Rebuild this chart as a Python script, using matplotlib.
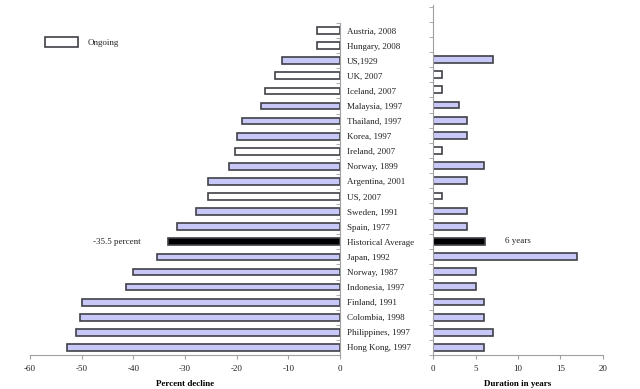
import matplotlib.pyplot as plt
import numpy as np
from matplotlib.patches import Rectangle

plt.rcParams['font.family'] = ['Liberation Serif', 'DejaVu Serif']
plt.rcParams['axes.unicode_minus'] = False

# top to bottom
episodes = ['Austria, 2008', 'Hungary, 2008', 'US,1929', 'UK, 2007', 'Iceland, 2007',
            'Malaysia, 1997', 'Thailand, 1997', 'Korea, 1997', 'Ireland, 2007',
            'Norway, 1899', 'Argentina, 2001', 'US, 2007', 'Sweden, 1991', 'Spain, 1977',
            'Historical Average', 'Japan, 1992', 'Norway, 1987', 'Indonesia, 1997',
            'Finland, 1991', 'Colombia, 1998', 'Philippines, 1997', 'Hong Kong, 1997']
decline = [-4.4, -4.4, -11.3, -12.6, -14.5, -15.2, -19.0, -19.9, -20.4, -21.5, -25.5,
           -25.5, -27.9, -31.6, -33.3, -35.5, -40.1, -41.5, -49.9, -50.4, -51.1, -52.9]
duration = [0, 0, 7, 1, 1, 3, 4, 4, 1, 6, 4, 1, 4, 4, 6.1, 17, 5, 5, 6, 6, 7, 6]
status = ['ongoing', 'ongoing', 'past', 'ongoing', 'ongoing', 'past', 'past', 'past',
          'ongoing', 'past', 'past', 'ongoing', 'past', 'past', 'average', 'past', 'past',
          'past', 'past', 'past', 'past', 'past']

fills = {'ongoing': 'white', 'past': '#c8c8f8', 'average': 'black'}
colors = [fills[s] for s in status]
n = len(episodes)
y = np.arange(n)

fig = plt.figure(figsize=(6.4, 3.89), dpi=100)
ax1 = fig.add_axes([30 / 640, 1 - 355 / 389, 310 / 640, 332 / 389])
ax2 = fig.add_axes([433.3 / 640, 1 - 355 / 389, 169.4 / 640, 350 / 389])

gray = '#a0a0a0'
edge = '#404048'
txt = '#222222'
fs = 6.5

ax1.barh(y, decline, height=0.45, color=colors, edgecolor=edge, linewidth=1.2)
ax1.set_xlim(-60, 0)
ax1.set_ylim(n - 0.5, -0.5)
ax1.set_xticks(np.arange(-60, 1, 10))
ax1.yaxis.tick_right()
ax1.set_yticks(y)
ax1.set_yticklabels(episodes, fontsize=fs, color=txt)
ax1.set_yticks(np.arange(-0.5, n, 1), minor=True)
ax1.tick_params(axis='y', which='major', length=0, pad=5)
ax1.tick_params(axis='y', which='minor', length=3, direction='in', color=gray)
ax1.set_xlabel('Percent decline', fontsize=fs, fontweight='bold', labelpad=5)
ax1.text(-43.2, 14, '-35.5 percent', fontsize=fs, ha='center', va='center', color=txt)

ax2.barh(np.arange(1, n + 1), duration, height=0.45, color=colors, edgecolor=edge,
         linewidth=1.2)
ax2.set_xlim(0, 20)
ax2.set_ylim(n + 0.5, -0.6)
ax2.set_xticks(np.arange(0, 21, 5))
ax2.set_yticks([])
ax2.set_yticks(np.arange(-0.5, n + 1, 1), minor=True)
ax2.tick_params(axis='y', which='minor', length=3, direction='out', color=gray)
ax2.set_xlabel('Duration in years', fontsize=fs, fontweight='bold', labelpad=5)
ax2.text(10, 15, '6 years', fontsize=fs, ha='center', va='center', color=txt)

for ax, side in [(ax1, 'right'), (ax2, 'left')]:
    for s in ['top', 'left', 'right', 'bottom']:
        ax.spines[s].set_visible(False)
    ax.spines[side].set_visible(True)
    ax.spines[side].set_color(gray)
    ax.spines['bottom'].set_visible(True)
    ax.spines['bottom'].set_color(gray)
    ax.tick_params(axis='x', length=3, color=gray, labelsize=fs, labelcolor=txt, pad=4)

# legend box
fig.patches.append(Rectangle((45 / 640, 1 - 47 / 389), 33 / 640, 10 / 389,
                             transform=fig.transFigure, facecolor='white',
                             edgecolor=edge, linewidth=1.2))
fig.text(88 / 640, 1 - 43 / 389, 'Ongoing', fontsize=fs, va='center', color=txt)

fig.savefig('out.png', dpi=100)
